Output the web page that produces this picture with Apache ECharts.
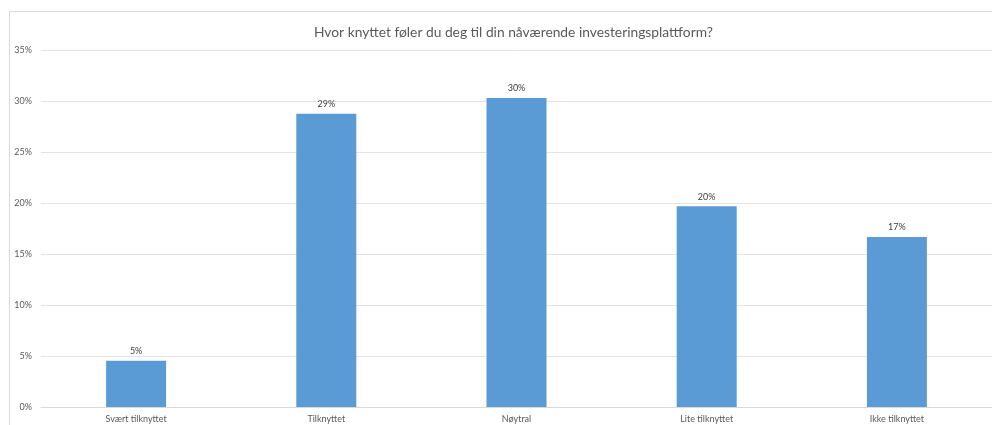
<!DOCTYPE html>
<html>
<head>
<meta charset="utf-8">
<script src="https://cdn.jsdelivr.net/npm/echarts@6/dist/echarts.min.js"></script>
<style>
  html, body { margin: 0; padding: 0; background: #fff; }
  #chart { width: 992px; height: 425px; }
</style>
</head>
<body>
<div id="chart"></div>
<script>
// Survey answers: attachment to current investment platform (share of respondents, %)
const categories = ['Svært tilknyttet', 'Tilknyttet', 'Nøytral', 'Lite tilknyttet', 'Ikke tilknyttet'];
const shares = [4.54, 28.75, 30.29, 19.67, 16.67];
const yTicks = [0, 5, 10, 15, 20, 25, 30, 35];

const FONT = 'Lato, "Open Sans", sans-serif';

const chart = echarts.init(document.getElementById('chart'), null, { renderer: 'canvas' });

chart.setOption({
  animation: false,
  backgroundColor: '#ffffff',
  title: {
    text: 'Hvor knyttet føler du deg til din nåværende investeringsplattform?',
    left: 309,
    top: 21,
    textStyle: { fontFamily: FONT, fontSize: 13.8, fontWeight: 'normal', color: '#595959' }
  },
  graphic: [{
    type: 'rect',
    shape: { x: 9.5, y: 11.5, width: 1200, height: 600 },
    style: { fill: 'none', stroke: '#d9d9d9', lineWidth: 1 },
    silent: true,
    z: -1
  }],
  grid: { left: 41, right: -1, top: 50, bottom: 18, containLabel: false },
  xAxis: {
    type: 'category',
    data: categories,
    axisLine: { show: true, lineStyle: { color: '#d9d9d9' } },
    axisTick: { show: false },
    axisLabel: { fontFamily: FONT, fontSize: 9, color: '#595959', margin: 8 }
  },
  yAxis: {
    type: 'value',
    min: yTicks[0],
    max: yTicks[yTicks.length - 1],
    interval: 5,
    axisLine: { show: false },
    axisTick: { show: false },
    splitLine: { lineStyle: { color: '#e3e3e3', width: 1 } },
    axisLabel: {
      fontFamily: FONT, fontSize: 9, color: '#595959', margin: 9,
      formatter: v => v + '%'
    }
  },
  series: [{
    type: 'bar',
    data: shares,
    barWidth: 60,
    itemStyle: { color: '#5b9bd5' },
    label: {
      show: true,
      position: 'top',
      distance: 5,
      fontFamily: FONT,
      fontSize: 9,
      color: '#404040',
      formatter: p => Math.round(p.value) + '%'
    }
  }]
});
</script>
</body>
</html>
